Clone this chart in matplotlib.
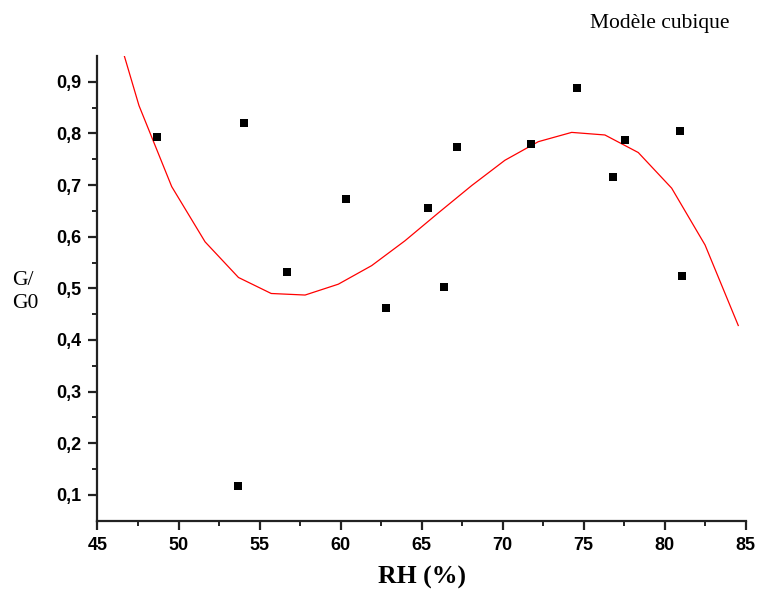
import numpy as np
import matplotlib.pyplot as plt

# mesures G/G0 en fonction de l'humidité relative
rh = [48.67, 54.04, 53.67, 56.70, 60.34, 62.81, 65.40, 66.39, 67.19,
      71.76, 74.58, 76.80, 77.58, 80.96, 81.08]
g_g0 = [0.793, 0.820, 0.117, 0.532, 0.673, 0.462, 0.656, 0.503, 0.774,
        0.779, 0.888, 0.716, 0.787, 0.805, 0.524]

# courbe du modèle cubique
rh_modele = [45.50, 47.56, 49.58, 51.64, 53.70, 55.72, 57.81, 59.86, 61.92,
             63.97, 66.03, 68.09, 70.14, 72.20, 74.26, 76.31, 78.37, 80.43,
             82.49, 84.54]
g_modele = [1.073, 0.854, 0.697, 0.590, 0.521, 0.490, 0.487, 0.508, 0.544,
            0.592, 0.646, 0.699, 0.748, 0.784, 0.802, 0.797, 0.763, 0.694,
            0.584, 0.428]

xticks = [45, 50, 55, 60, 65, 70, 75, 80, 85]
yticks = [0.1, 0.2, 0.3, 0.4, 0.5, 0.6, 0.7, 0.8, 0.9]

fig = plt.figure(figsize=(7.58, 5.98), dpi=100)
ax = fig.add_axes([0.1286, 0.1293, 0.8552, 0.7771])

ax.plot(rh_modele, g_modele, color='red', lw=0.9)
ax.plot(rh, g_g0, 's', color='black', markersize=6, markeredgewidth=0)

ax.set_xlim(45, 85)
ax.set_ylim(0.05, 0.95)
ax.set_xticks(xticks)
ax.set_yticks(yticks)
ax.set_xticks(np.arange(47.5, 85, 5), minor=True)
ax.set_yticks(np.arange(0.15, 0.95, 0.1), minor=True)
ax.set_xticklabels([str(v) for v in xticks])
ax.set_yticklabels([f"{v:.1f}".replace('.', ',') for v in yticks])

for s in ['top', 'right']:
    ax.spines[s].set_visible(False)
for s in ['left', 'bottom']:
    ax.spines[s].set_linewidth(1.6)
    ax.spines[s].set_color('#222222')

ax.tick_params(which='major', length=6.5, width=1.6, color='#222222')
ax.tick_params(axis='x', which='major', pad=5)
ax.tick_params(axis='y', which='major', pad=5)
ax.tick_params(which='minor', length=3.5, width=1.4, color='#222222')
for lab in ax.get_xticklabels() + ax.get_yticklabels():
    lab.set_fontfamily('Liberation Sans')
    lab.set_fontweight('bold')
    lab.set_fontsize(13)

ax.set_xlabel('RH (%)', family='Liberation Serif', fontweight='bold',
              fontsize=18.5, labelpad=9)

fig.text(12 / 758, 1 - 292 / 598, 'G/\nG0', family='Liberation Serif',
         fontsize=15.5, ha='left', va='center', linespacing=1.25)
fig.text(730 / 758, 1 - 28 / 598, 'Modèle cubique', family='Liberation Serif',
         fontsize=15.5, ha='right', va='baseline')

fig.savefig('out.png', dpi=100)
